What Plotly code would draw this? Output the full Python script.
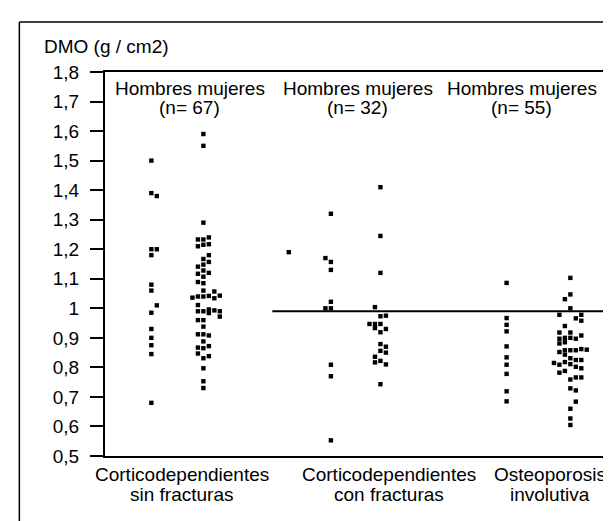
import plotly.graph_objects as go

# ---------------- data ----------------
group_labels_line1 = ["Corticodependientes", "Corticodependientes", "Osteoporosis"]
group_labels_line2 = ["sin fracturas", "con fracturas", "involutiva"]
header_line1 = ["Hombres mujeres", "Hombres mujeres", "Hombres mujeres"]
group_n = [67, 32, 55]

y_tick_values = [0.5, 0.6, 0.7, 0.8, 0.9, 1.0, 1.1, 1.2, 1.3, 1.4, 1.5, 1.6, 1.7, 1.8]
y_tick_labels = ["0,5", "0,6", "0,7", "0,8", "0,9", "1", "1,1", "1,2", "1,3", "1,4", "1,5", "1,6", "1,7", "1,8"]
reference_value = 0.99

# DMO values (g/cm2) and the dot column (jitter index) of each point
g1_men = [1.50, 1.39, 1.38, 1.20, 1.20, 1.18, 1.08, 1.06, 1.01, 0.985, 0.93, 0.90, 0.875, 0.845, 0.68]
g1_men_col = [0, 0, 1, 0, 1, 0, 0, 0, 1, 0, 0, 0, 0, 0, 0]

g1_women = [1.59, 1.55, 1.29, 1.233, 1.233, 1.24, 1.21, 1.215, 1.217, 1.18, 1.167, 1.157,
            1.141, 1.148, 1.117, 1.128, 1.12, 1.107, 1.089, 1.085, 1.06, 1.057,
            1.036, 1.04, 1.04, 1.042, 1.034, 1.043, 1.011,
            0.99, 0.99, 0.996, 0.993, 0.99, 0.984, 0.972, 0.96, 0.96, 0.938,
            0.912, 0.912, 0.908, 0.888, 0.867, 0.865, 0.872, 0.847, 0.831, 0.838,
            0.797, 0.753, 0.73]
g1_women_col = [0, 0, 0, -1, 0, 1, -1, 0, 1, 1, 0, 1,
                -1, 0, -1, 0, 1, 0, -1, 0, 0, 2,
                -2, -1, 0, 1, 2, 3, -1,
                -1, 0, 1, 2, 3, 1, 3, -1, 0, 0,
                -1, 0, 1, 0, -1, 0, 1, -1, 0, 1,
                0, 0, 0]

g2_men = [1.32, 1.19, 1.17, 1.157, 1.13, 1.022, 1.0, 1.0, 0.809, 0.77, 0.553]
g2_men_col = [0, -7.7, -1, 0, 0, 0, -1, 0, 0, 0, 0]

g2_women = [1.41, 1.245, 1.12, 1.004, 0.973, 0.975, 0.947, 0.947, 0.947, 0.933, 0.919,
            0.93, 0.879, 0.87, 0.856, 0.85, 0.836, 0.822, 0.817, 0.81, 0.743]
g2_women_col = [0, 0, 0, -1, 0, 1, -2, -1, 0, -1, 0,
                1, 0, 1, 0, 1, -1, 0, -1, 1, 0]

g3_men = [1.086, 0.967, 0.944, 0.922, 0.871, 0.834, 0.809, 0.778, 0.719, 0.685]
g3_men_col = [0, 0, 0, 0, 0, 0, 0, 0, 0, 0]

g3_women = [1.103, 1.047, 1.031, 1.0, 0.978, 0.978, 0.966, 0.958, 0.94, 0.918, 0.918,
            0.9, 0.9, 0.908, 0.897, 0.897, 0.881, 0.885,
            0.852, 0.858, 0.858, 0.858, 0.862, 0.86, 0.843,
            0.815, 0.809, 0.818, 0.811, 0.825, 0.825, 0.831, 0.802, 0.797,
            0.782, 0.788, 0.759, 0.766, 0.766, 0.729, 0.722, 0.684, 0.66, 0.627, 0.605]
g3_women_col = [0, 0, -1, 0, -2, 2, 1, 2, -1, -2, 0,
                -1, 0, 2, -2, 1, -2, -1,
                -2, -1, 0, 1, 2, 3, -1,
                -3, -2, -1, 0, 1, 2, 0, 1, 2,
                -2, -1, 0, 1, 2, 0, 1, 1, 0, 0, 0]

# ---------------- layout constants ----------------
FONT = "Liberation Sans, Arial, Helvetica, sans-serif"
FS = 19
W, H = 611, 521
ML, MR, MT, MB = 97, 10, 64, 73
COL_STEP = 0.0327
series_base = {  # x slot of each series on the group axis (group i spans [i, i+1])
    "g1_men": 0.277, "g1_women": 0.588,
    "g2_men": 1.35, "g2_women": 1.646,
    "g3_men": 2.40, "g3_women": 2.781,
}
header_centers = [0.505, 1.51, 2.49]
label_centers = [0.46, 1.70, 2.66]

series = [
    ("g1_men", g1_men, g1_men_col), ("g1_women", g1_women, g1_women_col),
    ("g2_men", g2_men, g2_men_col), ("g2_women", g2_women, g2_women_col),
    ("g3_men", g3_men, g3_men_col), ("g3_women", g3_women, g3_women_col),
]

fig = go.Figure()
for name, vals, cols in series:
    base = series_base[name]
    fig.add_trace(go.Scatter(
        x=[base + c * COL_STEP for c in cols], y=vals, mode="markers", name=name,
        marker=dict(symbol="square", size=4.4, color="black", line=dict(width=0)),
        showlegend=False, hoverinfo="y"))

plot_w = W - ML - MR
plot_h = H - MT - MB


def px_x(px):
    return (px - ML) / plot_w


def px_y(py):
    return (H - MB - py) / plot_h


txt_font = dict(family=FONT, size=FS, color="black")
annotations = [dict(text="DMO (g / cm2)", x=px_x(34), y=px_y(38), xref="paper", yref="paper",
                    xanchor="left", yanchor="middle", showarrow=False, font=txt_font)]
for i in range(3):
    annotations.append(dict(text=header_line1[i], x=header_centers[i], y=px_y(80.5), xref="x",
                            yref="paper", xanchor="center", yanchor="middle", showarrow=False,
                            font=txt_font))
    annotations.append(dict(text=f"(n= {group_n[i]})", x=header_centers[i], y=px_y(99), xref="x",
                            yref="paper", xanchor="center", yanchor="middle", showarrow=False,
                            font=txt_font))
    annotations.append(dict(text=group_labels_line1[i], x=label_centers[i], y=px_y(466), xref="x",
                            yref="paper", xanchor="center", yanchor="middle", showarrow=False,
                            font=txt_font))
    annotations.append(dict(text=group_labels_line2[i], x=label_centers[i], y=px_y(486), xref="x",
                            yref="paper", xanchor="center", yanchor="middle", showarrow=False,
                            font=txt_font))

frame = dict(color="black", width=1.5)
shapes = [
    dict(type="line", xref="x", yref="y", x0=1.0, x1=3.0, y0=reference_value, y1=reference_value,
         line=dict(color="black", width=2)),
    dict(type="line", xref="paper", yref="paper", x0=px_x(11), x1=px_x(11), y0=px_y(14), y1=px_y(540), line=frame),
    dict(type="line", xref="paper", yref="paper", x0=px_x(11), x1=px_x(607), y0=px_y(14), y1=px_y(14), line=frame),
    dict(type="line", xref="paper", yref="paper", x0=px_x(607), x1=px_x(607), y0=px_y(14), y1=px_y(540), line=frame),
]

fig.update_layout(
    width=W, height=H, autosize=False,
    margin=dict(l=ML, r=MR, t=MT, b=MB, pad=0),
    paper_bgcolor="white", plot_bgcolor="white",
    font=dict(family=FONT, size=FS, color="black"),
    xaxis=dict(range=[0, 3], showline=True, mirror=True, linecolor="black", linewidth=2,
               showgrid=False, zeroline=False, showticklabels=False, ticks=""),
    yaxis=dict(range=[0.5, 1.8], tickvals=y_tick_values, ticktext=y_tick_labels,
               ticks="outside", ticklen=13, tickwidth=1.5, tickcolor="black",
               ticklabelstandoff=7,
               showline=True, mirror=True, linecolor="black", linewidth=2,
               showgrid=False, zeroline=False,
               tickfont=dict(family=FONT, size=FS, color="black")),
    annotations=annotations, shapes=shapes,
)

fig.write_html("out.html")
